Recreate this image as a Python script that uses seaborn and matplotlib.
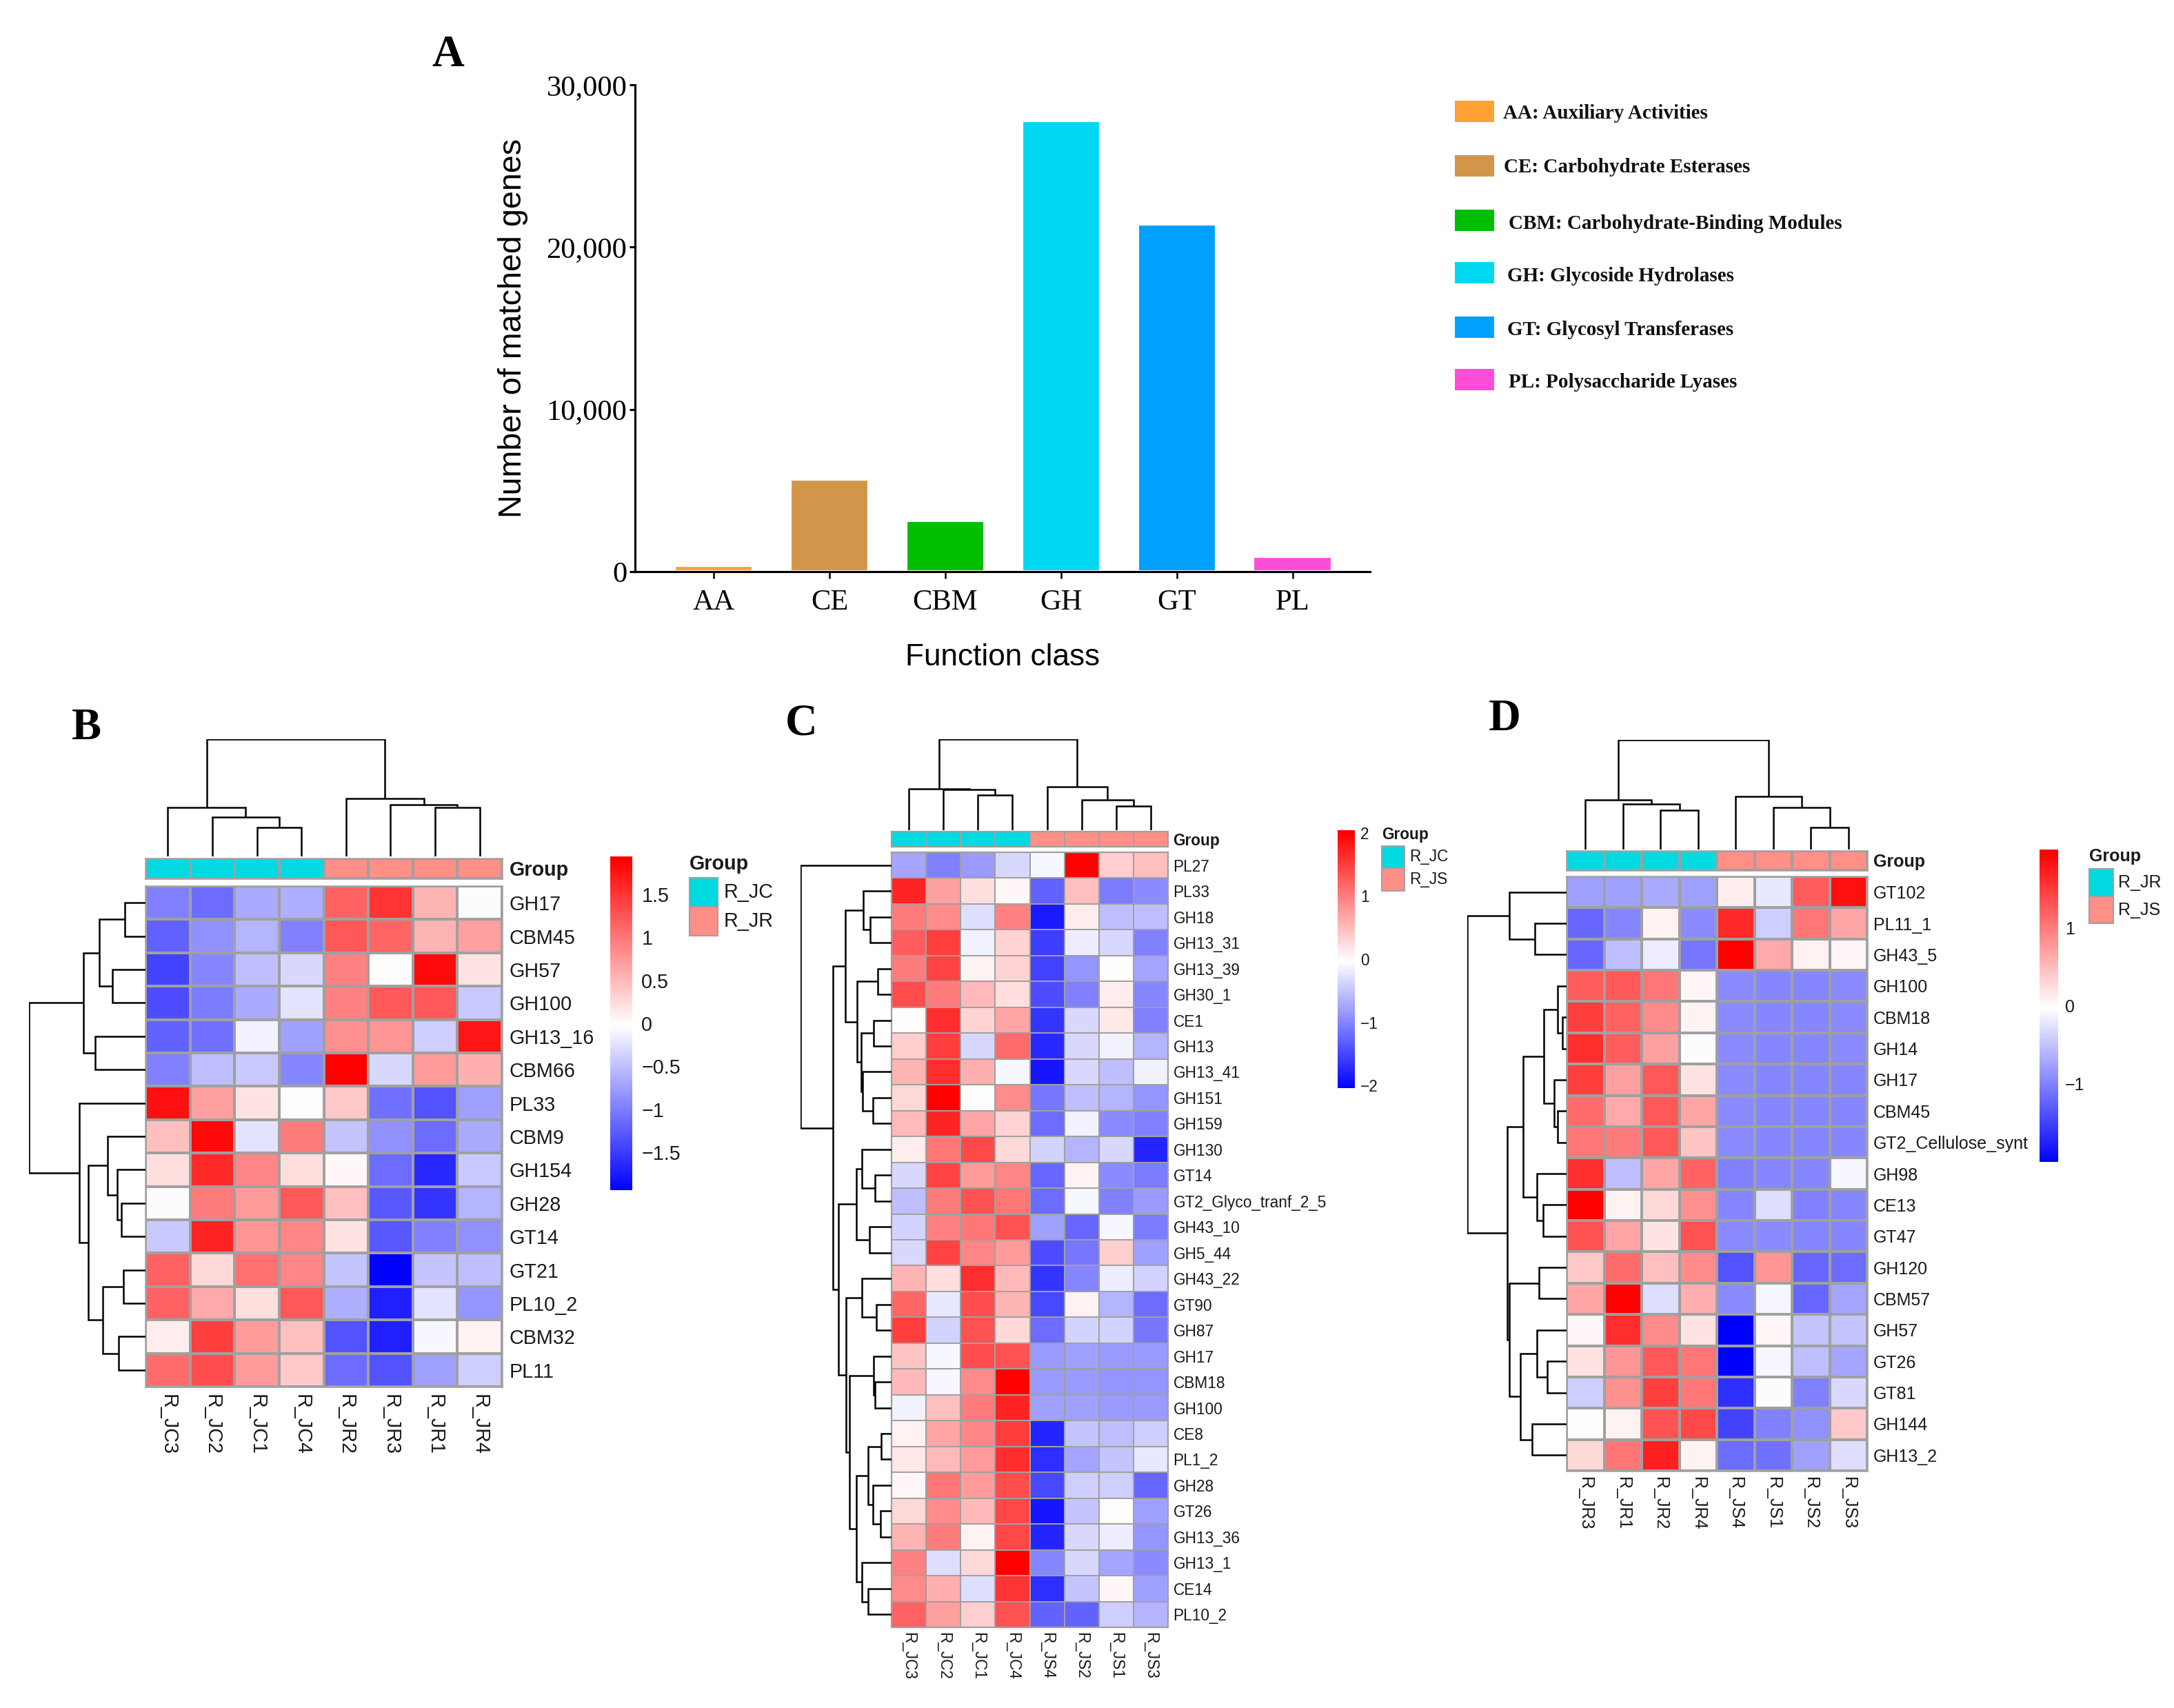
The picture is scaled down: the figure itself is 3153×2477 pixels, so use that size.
import matplotlib
matplotlib.use("Agg")
import matplotlib.pyplot as plt
from matplotlib.colors import LinearSegmentedColormap, ListedColormap
from matplotlib.patches import Rectangle
import numpy as np
import pandas as pd
import seaborn as sns

sns.set_theme(style="white")
SANS = ["Liberation Sans", "DejaVu Sans"]
SERIF = ["Liberation Serif", "DejaVu Serif"]
plt.rcParams["font.family"] = SANS

W, H = 3153, 2477
DPI = 300
fig = plt.figure(figsize=(W / DPI, H / DPI), dpi=DPI, facecolor="white")

# ---------------- Panel A data ----------------
classes = ["AA", "CE", "CBM", "GH", "GT", "PL"]
matched_genes = [400, 5700, 3150, 27800, 21400, 950]
class_colors = ["#FFA033", "#D2954A", "#00BE00", "#00D8F2", "#00A0FF", "#FF4DD8"]
class_legend = ["AA: Auxiliary Activities", "CE: Carbohydrate Esterases",
                "CBM: Carbohydrate-Binding Modules", "GH: Glycoside Hydrolases",
                "GT: Glycosyl Transferases", "PL: Polysaccharide Lyases"]

# ---------------- Panel B data ----------------
b_cols = ["R_JC3", "R_JC2", "R_JC1", "R_JC4", "R_JR2", "R_JR3", "R_JR1", "R_JR4"]
b_rows = ["GH17", "CBM45", "GH57", "GH100", "GH13_16", "CBM66", "PL33", "CBM9", "GH154",
          "GH28", "GT14", "GT21", "PL10_2", "CBM32", "PL11"]
b_vals = [
    [-0.95, -1.1, -0.65, -0.6, 1.2, 1.55, 0.55, -0.03],
    [-1.2, -0.85, -0.55, -0.95, 1.25, 1.15, 0.55, 0.7],
    [-1.4, -0.9, -0.5, -0.3, 0.95, 0.0, 1.85, 0.2],
    [-1.35, -1.0, -0.65, -0.2, 0.95, 1.25, 1.25, -0.4],
    [-1.2, -1.05, -0.1, -0.7, 0.85, 0.8, -0.35, 1.75],
    [-0.95, -0.5, -0.4, -0.9, 1.94, -0.28, 0.75, 0.6],
    [1.8, 0.7, 0.2, 0.02, 0.4, -1.05, -1.3, -0.7],
    [0.5, 1.85, -0.2, 1.0, -0.45, -0.85, -1.1, -0.65],
    [0.25, 1.6, 0.9, 0.25, 0.06, -1.1, -1.6, -0.4],
    [-0.03, 1.0, 0.75, 1.25, 0.5, -1.25, -1.55, -0.55],
    [-0.4, 1.65, 0.8, 0.9, 0.2, -1.25, -0.95, -0.85],
    [1.2, 0.3, 1.05, 0.9, -0.45, -1.94, -0.45, -0.5],
    [1.2, 0.65, 0.25, 1.25, -0.6, -1.7, -0.2, -0.8],
    [0.15, 1.45, 0.75, 0.5, -1.3, -1.7, -0.05, 0.1],
    [1.1, 1.35, 0.75, 0.4, -1.1, -1.3, -0.7, -0.35],
]
b_groups = [0, 0, 0, 0, 1, 1, 1, 1]
b_group_names = ["R_JC", "R_JR"]
b_col_tree = (232, (97, 0, (78, 1, (57, 2, 3))), (115, 4, (103, 5, (97, 6, 7))))
b_row_tree = (230,
              (122, (91, (41, 0, 1), (66, 2, 3)), (99, 4, 5)),
              (131, 6, (113, (75, 7, (56, 8, (48, 9, 10))),
                        (84, (44, 11, 12), (53, 13, 14)))))

# ---------------- Panel C data ----------------
c_cols = ["R_JC3", "R_JC2", "R_JC1", "R_JC4", "R_JS4", "R_JS2", "R_JS1", "R_JS3"]
c_rows = ["PL27", "PL33", "GH18", "GH13_31", "GH13_39", "GH30_1", "CE1", "GH13", "GH13_41",
          "GH151", "GH159", "GH130", "GT14", "GT2_Glyco_tranf_2_5", "GH43_10", "GH5_44",
          "GH43_22", "GT90", "GH87", "GH17", "CBM18", "GH100", "CE8", "PL1_2", "GH28",
          "GT26", "GH13_36", "GH13_1", "CE14", "PL10_2"]
c_vals = [
    [-0.7, -1.0, -0.8, -0.3, -0.06, 2.0, 0.4, 0.5],
    [1.75, 0.75, 0.25, 0.06, -1.25, 0.5, -1.05, -0.9],
    [1.05, 0.9, -0.25, 1.0, -1.8, 0.13, -0.5, -0.5],
    [1.3, 1.55, -0.1, 0.35, -1.55, -0.15, -0.3, -1.0],
    [1.05, 1.5, 0.1, 0.35, -1.5, -0.85, 0.03, -0.7],
    [1.4, 1.05, 0.55, 0.25, -1.4, -1.0, 0.13, -0.95],
    [0.03, 1.65, 0.35, 0.7, -1.6, -0.3, 0.18, -1.0],
    [0.4, 1.55, -0.3, 1.15, -1.7, -0.3, -0.1, -0.6],
    [0.6, 1.65, 0.65, -0.06, -1.85, -0.3, -0.5, -0.1],
    [0.3, 2.0, 0.02, 0.9, -1.1, -0.5, -0.6, -0.85],
    [0.55, 1.75, 0.7, 0.35, -1.15, -0.1, -0.9, -1.0],
    [0.15, 1.1, 1.45, 0.3, -0.35, -0.6, -0.3, -1.75],
    [-0.3, 1.5, 0.8, 0.95, -1.2, 0.1, -0.9, -1.05],
    [-0.5, 1.05, 1.35, 1.1, -1.15, -0.06, -1.0, -0.8],
    [-0.35, 1.0, 1.1, 1.35, -0.75, -1.2, -0.05, -1.05],
    [-0.3, 1.5, 0.95, 0.8, -1.4, -1.1, 0.4, -0.75],
    [0.6, 0.25, 1.65, 0.55, -1.6, -0.95, -0.15, -0.35],
    [1.2, -0.2, 1.4, 0.6, -1.45, 0.1, -0.6, -1.15],
    [1.55, -0.35, 1.35, 0.3, -1.15, -0.35, -0.35, -1.1],
    [0.45, -0.05, 1.4, 1.35, -0.8, -0.75, -0.8, -0.8],
    [0.55, -0.08, 0.9, 2.0, -0.8, -0.8, -0.85, -0.85],
    [-0.1, 0.5, 1.05, 1.75, -0.75, -0.75, -0.8, -0.8],
    [0.12, 0.7, 0.95, 1.55, -1.75, -0.45, -0.5, -0.4],
    [0.2, 0.55, 0.8, 1.65, -1.65, -0.7, -0.45, -0.2],
    [0.08, 1.1, 0.8, 1.4, -1.45, -0.4, -0.4, -1.2],
    [0.3, 0.9, 0.55, 1.45, -1.85, -0.45, 0.0, -0.75],
    [0.6, 1.05, 0.1, 1.45, -1.75, -0.3, -0.15, -0.85],
    [1.0, -0.25, 0.3, 2.0, -0.95, -0.3, -0.7, -0.9],
    [0.9, 0.65, -0.25, 1.6, -1.65, -0.45, 0.06, -0.75],
    [1.25, 0.75, 0.4, 1.35, -1.25, -1.25, -0.4, -0.6],
]
c_groups = [0, 0, 0, 0, 1, 1, 1, 1]
c_group_names = ["R_JC", "R_JS"]
c_col_tree = (145, (66, 0, (65, 1, (56, 2, 3))), (69, 4, (48, 5, (38, 6, 7))))
c_row_tree = (207, 0,
              (134,
               (105, (64, 1, (48, 2, 3)),
                (78, (32, 4, 5),
                 (69, (40, 6, 7), (66, 8, (43, 9, 10))))),
               (120,
                (80, (68, 11, (37, 12, 13)), (50, 14, 15)),
                (103, (68, 16, (35, 17, 18)),
                 (95, (40, 19, (38, 20, 21)),
                  (80, (53, (24, 22, 23), (42, 24, (25, 25, 26))),
                   (67, 27, (53, 28, 29))))))))

# ---------------- Panel D data ----------------
d_cols = ["R_JR3", "R_JR1", "R_JR2", "R_JR4", "R_JS4", "R_JS1", "R_JS2", "R_JS3"]
d_rows = ["GT102", "PL11_1", "GH43_5", "GH100", "CBM18", "GH14", "GH17", "CBM45",
          "GT2_Cellulose_synt", "GH98", "CE13", "GT47", "GH120", "CBM57", "GH57", "GT26",
          "GT81", "GH144", "GH13_2"]
d_vals = [
    [-0.75, -0.75, -0.65, -0.75, 0.15, -0.2, 1.25, 1.85],
    [-1.2, -0.95, 0.08, -0.9, 1.65, -0.4, 1.05, 0.7],
    [-1.2, -0.5, -0.15, -1.05, 2.0, 0.65, 0.1, 0.05],
    [1.25, 1.3, 1.05, 0.05, -0.9, -0.95, -0.95, -0.9],
    [1.5, 1.2, 0.9, 0.08, -0.9, -0.95, -0.95, -0.9],
    [1.6, 1.25, 0.75, -0.03, -0.9, -0.95, -0.95, -0.9],
    [1.5, 0.75, 1.3, 0.2, -0.9, -0.95, -0.95, -0.95],
    [1.15, 0.65, 1.3, 0.7, -0.9, -0.95, -0.95, -0.95],
    [1.05, 1.0, 1.3, 0.45, -0.9, -0.95, -0.95, -0.95],
    [1.6, -0.5, 0.7, 1.2, -1.0, -0.95, -0.95, -0.06],
    [2.0, 0.1, 0.3, 0.85, -0.95, -0.25, -1.0, -0.95],
    [1.35, 0.7, 0.2, 1.35, -0.9, -0.9, -0.95, -0.95],
    [0.4, 1.15, 0.5, 0.9, -1.35, 0.8, -1.2, -1.15],
    [0.7, 2.0, -0.25, 0.6, -0.9, -0.05, -1.2, -0.7],
    [0.04, 1.6, 0.9, 0.2, -2.0, 0.04, -0.45, -0.45],
    [0.2, 0.8, 1.3, 1.05, -2.0, -0.05, -0.5, -0.7],
    [-0.4, 0.85, 1.5, 1.05, -1.6, -0.02, -1.0, -0.3],
    [0.03, 0.1, 1.35, 1.4, -1.45, -1.0, -0.85, 0.4],
    [0.3, 1.05, 1.75, 0.1, -1.15, -1.1, -0.75, -0.25],
]
d_groups = [0, 0, 0, 0, 1, 1, 1, 1]
d_group_names = ["R_JR", "R_JS"]
d_col_tree = (207, (94, 0, (86, 1, (74, 2, 3))), (100, 4, (80, 5, (42, 6, 7))))
d_row_tree = (214,
              (124, 0, (68, 1, 2)),
              (128,
               (94, (49, (19, 3, (9, 4, 5)), (27, 6, (19, 7, 8))),
                (64, 9, (50, 10, 11))),
               (124, (60, 12, 13),
                (99, (64, 14, (41, 15, 16)), (74, 17, 18)))))

GROUP_COLORS = ["#00DAE0", "#FF8F87"]
GRID = "#A0A0A0"
heat_cmap = LinearSegmentedColormap.from_list("bwr_ph", ["#0000FF", "#FFFFFF", "#FF0000"], N=100)


def px_axes(x0, y0, x1, y1):
    return fig.add_axes([x0 / W, 1 - y1 / H, (x1 - x0) / W, (y1 - y0) / H])


def px_text(x, y, s, **kw):
    fig.text(x / W, 1 - y / H, s, **kw)


def draw_tree(ax, node, horizontal):
    """Draw a merge tree; returns (leaf position, height) of the node."""
    if not isinstance(node, tuple):
        return node + 0.5, 0
    h, left, right = node
    p0, h0 = draw_tree(ax, left, horizontal)
    p1, h1 = draw_tree(ax, right, horizontal)
    pos, hts = [p0, p0, p1, p1], [h0, h, h, h1]
    if horizontal:
        ax.plot(hts, pos, color="black", lw=0.6, solid_joinstyle="miter", solid_capstyle="butt")
    else:
        ax.plot(pos, hts, color="black", lw=0.6, solid_joinstyle="miter", solid_capstyle="butt")
    return (p0 + p1) / 2, h


def heatmap_panel(rows, cols, vals, groups, group_names, col_tree, row_tree, vmax,
                  heat, bar, cdend, rdend, cb, cb_ticks, cb_labels, leg, fs, lw):
    df = pd.DataFrame(vals, index=rows, columns=cols)
    ax = px_axes(*heat)
    cax = px_axes(*cb)
    sns.heatmap(df, ax=ax, cmap=heat_cmap, vmin=-vmax, vmax=vmax, linewidths=lw, linecolor=GRID,
                cbar=True, cbar_ax=cax, xticklabels=True, yticklabels=True,
                cbar_kws={"ticks": cb_ticks, "drawedges": False})
    for s in ax.spines.values():
        s.set_visible(True)
        s.set_color(GRID)
        s.set_linewidth(lw * 1.2)
    ax.yaxis.tick_right()
    ax.tick_params(axis="both", length=0, pad=fs * 0.55 - 1.2)
    ax.set_yticklabels(rows, rotation=0, fontsize=fs, ha="left", color="#1a1a1a")
    ax.set_xticklabels(cols, rotation=270, fontsize=fs, ha="center", va="top", color="#1a1a1a")
    ax.set_xlabel("")
    ax.set_ylabel("")
    cax.tick_params(length=0, pad=fs * 0.9 - 3, labelsize=fs, labelcolor="#1a1a1a")
    cax.set_yticklabels(cb_labels)
    cax.collections[-1].set_edgecolor("face")
    for s in cax.spines.values():
        s.set_visible(False)

    bax = px_axes(*bar)
    sns.heatmap(pd.DataFrame([groups], index=["Group"], columns=cols), ax=bax,
                cmap=ListedColormap(GROUP_COLORS), vmin=0, vmax=1, cbar=False,
                linewidths=lw, linecolor=GRID, xticklabels=False, yticklabels=True)
    for s in bax.spines.values():
        s.set_visible(True)
        s.set_color(GRID)
        s.set_linewidth(lw * 1.2)
    bax.yaxis.tick_right()
    bax.tick_params(axis="y", length=0, pad=fs * 0.55 - 1.2)
    bax.set_yticklabels(["Group"], rotation=0, fontsize=fs, fontweight="bold", ha="left", color="#1a1a1a")
    bax.set_xlabel("")
    bax.set_ylabel("")

    tax = px_axes(*cdend)
    draw_tree(tax, col_tree, False)
    tax.set_xlim(0, len(cols))
    tax.set_ylim(0, col_tree[0])
    tax.axis("off")

    lax = px_axes(*rdend)
    draw_tree(lax, row_tree, True)
    lax.set_ylim(len(rows), 0)
    lax.set_xlim(row_tree[0], 0)
    lax.axis("off")

    # group legend
    tx, ty, sx0, sx1, sy0, sy1, sy2, lx = leg
    px_text(tx, ty, "Group", fontsize=fs, fontweight="bold", va="center", ha="left", color="#1a1a1a")
    for (a, b), col, name in zip([(sy0, sy1), (sy1, sy2)], GROUP_COLORS, group_names):
        fig.add_artist(Rectangle((sx0 / W, 1 - b / H), (sx1 - sx0) / W, (b - a) / H,
                                 transform=fig.transFigure, facecolor=col, edgecolor=GRID, lw=lw))
        px_text(lx, (a + b) / 2, name, fontsize=fs, va="center", ha="left", color="#1a1a1a")


# ---------------- Panel A ----------------
ax_a = px_axes(921, 123, 1987, 829)
df_a = pd.DataFrame({"cls": classes, "n": matched_genes})
sns.barplot(df_a, x="cls", y="n", hue="cls", palette=class_colors, ax=ax_a, width=0.68,
            legend=False, saturation=1, dodge=False)
ax_a.set_xlim(-0.68, 5.67)
ax_a.set_ylim(0, 30000)
ax_a.set_yticks([0, 10000, 20000, 30000])
ax_a.set_yticklabels(["0", "10,000", "20,000", "30,000"])
for s in ("top", "right"):
    ax_a.spines[s].set_visible(False)
for s in ("left", "bottom"):
    ax_a.spines[s].set_color("black")
    ax_a.spines[s].set_linewidth(0.75)
ax_a.tick_params(axis="y", which="major", length=2, width=0.75, color="black", left=True, pad=0.8)
ax_a.tick_params(axis="x", which="major", length=2.5, width=0.6, color="black", bottom=True, pad=3.5)
for lab in ax_a.get_xticklabels() + ax_a.get_yticklabels():
    lab.set_fontfamily(SERIF)
    lab.set_fontsize(10.2)
    lab.set_color("black")
ax_a.set_xlabel("Function class", fontsize=10.6, labelpad=9.6, color="black")
ax_a.set_ylabel("Number of matched genes", fontsize=11.2, labelpad=6.4, color="black")

legend_rects = [(2110, 146, 2167, 177), (2110, 225, 2167, 256), (2110, 304, 2167, 335),
                (2110, 380, 2167, 411), (2110, 459, 2167, 490), (2110, 535, 2167, 566)]
legend_text_pos = [(2180, 165), (2181, 243), (2188, 324), (2186, 400), (2186, 478), (2188, 555)]
for (x0, y0, x1, y1), col, (tx, ty), lab in zip(legend_rects, class_colors, legend_text_pos, class_legend):
    fig.add_artist(Rectangle((x0 / W, 1 - y1 / H), (x1 - x0) / W, (y1 - y0) / H,
                             transform=fig.transFigure, facecolor=col, edgecolor="none"))
    px_text(tx, ty, lab, fontsize=7, fontweight="bold", family=SERIF, va="center", ha="left", color="#111111")

# panel letters
for (x, y, s) in [(650, 80, "A"), (125, 1056, "B"), (1162, 1050, "C"), (2182, 1043, "D")]:
    px_text(x, y, s, fontsize=15.5, fontweight="bold", family=SERIF, va="center", ha="center", color="black")

# ---------------- Panels B, C, D ----------------
heatmap_panel(b_rows, b_cols, b_vals, b_groups, b_group_names, b_col_tree, b_row_tree, 1.94,
              heat=(211, 1285, 728, 2011), bar=(211, 1245, 728, 1274),
              cdend=(211, 1072, 728, 1242), rdend=(42, 1285, 211, 2011),
              cb=(885, 1242, 917, 1726), cb_ticks=[-1.5, -1, -0.5, 0, 0.5, 1, 1.5],
              cb_labels=["\u22121.5", "\u22121", "\u22120.5", "0", "0.5", "1", "1.5"],
              leg=(1000, 1253, 1000, 1041, 1273, 1315, 1357, 1050), fs=6.9, lw=0.5)

heatmap_panel(c_rows, c_cols, c_vals, c_groups, c_group_names, c_col_tree, c_row_tree, 2.04,
              heat=(1293, 1236, 1694, 2360), bar=(1293, 1206, 1694, 1228),
              cdend=(1293, 1072, 1694, 1204), rdend=(1161, 1236, 1293, 2360),
              cb=(1940, 1204, 1965, 1578), cb_ticks=[-2, -1, 0, 1, 2],
              cb_labels=["\u22122", "\u22121", "0", "1", "2"],
              leg=(2004, 1211, 2004, 2037, 1227, 1259, 1292, 2044), fs=5.45, lw=0.45)

heatmap_panel(d_rows, d_cols, d_vals, d_groups, d_group_names, d_col_tree, d_row_tree, 2.0,
              heat=(2272, 1271, 2708, 2133), bar=(2272, 1234, 2708, 1262),
              cdend=(2272, 1073, 2708, 1232), rdend=(2128, 1271, 2272, 2133),
              cb=(2958, 1232, 2985, 1685), cb_ticks=[-1, 0, 1],
              cb_labels=["\u22121", "0", "1"],
              leg=(3030, 1242, 3030, 3065, 1260, 1300, 1339, 3072), fs=6.0, lw=0.5)

fig.savefig("out.png", dpi=DPI, facecolor="white")
